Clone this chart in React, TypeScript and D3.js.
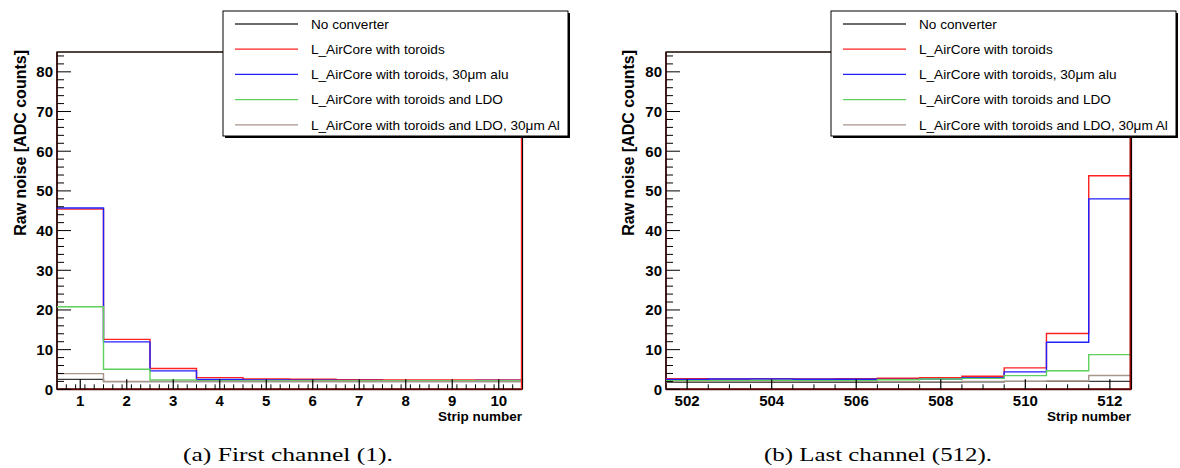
import React from "react";
import * as d3 from "d3";

// Series labels and line colours
const seriesNames = [
  "No converter",
  "L_AirCore with toroids",
  "L_AirCore with toroids, 30μm alu",
  "L_AirCore with toroids and LDO",
  "L_AirCore with toroids and LDO, 30μm Al",
];
const seriesColors = ["#3a3a3a", "#ff2020", "#2020ff", "#5fd05f", "#a8968c"];

// First channels (strips 1..10)
const firstStrips = [1, 2, 3, 4, 5, 6, 7, 8, 9, 10];
const firstNoConverter = [2.5, 1.95, 1.95, 1.95, 1.95, 1.95, 1.95, 1.95, 1.95, 1.95];
const firstToroids = [45.4, 12.6, 5.25, 2.95, 2.6, 2.55, 2.4, 2.35, 2.35, 2.35];
const firstToroidsAlu = [45.7, 11.95, 4.65, 2.5, 2.35, 2.3, 2.25, 2.2, 2.2, 2.25];
const firstToroidsLdo = [20.8, 5.05, 2.35, 2.2, 2.2, 2.2, 2.2, 2.2, 2.2, 2.2];
const firstToroidsLdoAl = [3.95, 2.0, 2.0, 2.0, 2.0, 2.0, 2.0, 2.0, 2.0, 2.0];

// Last channels (strips 502..512)
const lastStrips = [502, 503, 504, 505, 506, 507, 508, 509, 510, 511, 512];
const lastNoConverter = [1.75, 1.75, 1.75, 1.75, 1.8, 1.85, 1.85, 1.9, 2.0, 2.0, 2.0];
const lastToroids = [2.65, 2.6, 2.65, 2.6, 2.65, 2.8, 2.9, 3.3, 5.4, 14.05, 53.8];
const lastToroidsAlu = [2.5, 2.6, 2.6, 2.55, 2.55, 2.5, 2.6, 2.9, 4.4, 11.85, 48.0];
const lastToroidsLdo = [2.2, 2.2, 2.25, 2.2, 2.2, 2.4, 2.6, 2.75, 3.45, 4.7, 8.75];
const lastToroidsLdoAl = [1.95, 1.95, 1.95, 1.95, 1.95, 1.95, 1.95, 2.0, 2.0, 2.1, 3.5];

// Axis ticks
const yMajor = [0, 10, 20, 30, 40, 50, 60, 70, 80];
const firstXMajor = [1, 2, 3, 4, 5, 6, 7, 8, 9, 10];
const lastXMajor = [502, 504, 506, 508, 510, 512];

const Y_MAX = 85;
const FRAME_TOP = 52;
const FRAME_BOTTOM = 389.33;
const SANS = "'Liberation Sans', Arial, Helvetica, sans-serif";
const SERIF = "'Liberation Serif', 'Times New Roman', serif";

type PanelProps = {
  left: number;
  right: number;
  strips: number[];
  series: number[][];
  xMajor: number[];
  minorStep: number;
  titleX: number;
  legendX: number;
  caption: string;
  captionX: number;
  captionWidth: number;
  edgeColor: string;
  edgeWidth: number;
};

function Panel(p: PanelProps) {
  const lo = p.strips[0] - 0.5;
  const hi = p.strips[p.strips.length - 1] + 0.5;
  const x = d3.scaleLinear().domain([lo, hi]).range([p.left, p.right]);
  const y = d3.scaleLinear().domain([0, Y_MAX]).range([FRAME_BOTTOM, FRAME_TOP]);

  const line = d3.line<[number, number]>();
  const stepPath = (vals: number[]) => {
    const pts: [number, number][] = [];
    vals.forEach((v, i) => {
      pts.push([x(p.strips[i] - 0.5), y(v)]);
      pts.push([x(p.strips[i] + 0.5), y(v)]);
    });
    return line(pts) || "";
  };

  const yMinor = d3.range(0, Y_MAX, 2).filter((v) => v % 10 !== 0);
  const nMinor = Math.round((hi - lo) / p.minorStep);
  const xMinor = d3
    .range(1, nMinor)
    .map((i) => lo + i * p.minorStep)
    .filter((v) => !p.xMajor.some((m) => Math.abs(m - v) < 1e-6));

  const legendW = 345;
  const legendTop = 11;
  const legendH = 125;
  const rowY = (i: number) => 24 + i * 25.2;

  return (
    <g>
      {/* frame */}
      <rect x={p.left} y={FRAME_TOP} width={p.right - p.left} height={FRAME_BOTTOM - FRAME_TOP} fill="#fff" stroke="#000" strokeWidth={1.2} />
      <line x1={p.left} x2={p.right} y1={FRAME_TOP} y2={FRAME_TOP} stroke="#4a3a32" strokeWidth={1.4} />
      <line x1={p.left} x2={p.left} y1={FRAME_TOP} y2={FRAME_BOTTOM} stroke="#3a0808" strokeWidth={1.6} />

      {/* histograms */}
      {p.series.map((vals, i) => (
        <path key={i} d={stepPath(vals)} fill="none" stroke={seriesColors[i]} strokeWidth={1.4} />
      ))}

      <line x1={p.left} x2={p.right} y1={FRAME_BOTTOM} y2={FRAME_BOTTOM} stroke="#5a0404" strokeWidth={2} />
      <line x1={p.right - 0.5} x2={p.right - 0.5} y1={FRAME_TOP} y2={FRAME_BOTTOM} stroke={p.edgeColor} strokeWidth={p.edgeWidth} />
      <line x1={p.right + 0.6} x2={p.right + 0.6} y1={FRAME_TOP} y2={FRAME_BOTTOM} stroke="#000" strokeWidth={1} />

      {/* y axis */}
      {yMajor.map((v) => (
        <g key={"ym" + v}>
          <line x1={p.left} x2={p.left + 14} y1={y(v)} y2={y(v)} stroke="#000" strokeWidth={1} />
          <text x={p.left - 4} y={y(v) + 5.4} textAnchor="end" fontFamily={SANS} fontWeight="bold" fontSize={15}>
            {v}
          </text>
        </g>
      ))}
      {yMinor.map((v) => (
        <line key={"yn" + v} x1={p.left} x2={p.left + 7} y1={y(v)} y2={y(v)} stroke="#000" strokeWidth={1} />
      ))}
      <text
        transform={`translate(${p.titleX + 5.8},50) rotate(-90)`}
        textAnchor="end"
        fontFamily={SANS}
        fontWeight="bold"
        fontSize={16}
      >
        Raw noise [ADC counts]
      </text>

      {/* x axis */}
      {p.xMajor.map((v) => (
        <g key={"xm" + v}>
          <line x1={x(v)} x2={x(v)} y1={FRAME_BOTTOM} y2={FRAME_BOTTOM - 10} stroke="#000" strokeWidth={1.2} />
          <text x={x(v)} y={406} textAnchor="middle" fontFamily={SANS} fontWeight="bold" fontSize={15}>
            {v}
          </text>
        </g>
      ))}
      {xMinor.map((v, i) => (
        <line key={"xn" + i} x1={x(v)} x2={x(v)} y1={FRAME_BOTTOM} y2={FRAME_BOTTOM - 5} stroke="#000" strokeWidth={1} />
      ))}
      <text x={p.right} y={421} textAnchor="end" fontFamily={SANS} fontWeight="bold" fontSize={13.5}>
        Strip number
      </text>

      {/* legend */}
      <rect x={p.legendX + 2} y={legendTop + 2} width={legendW} height={legendH} fill="#000" />
      <rect x={p.legendX} y={legendTop} width={legendW} height={legendH} fill="#fff" stroke="#000" strokeWidth={1} />
      {seriesNames.map((name, i) => (
        <g key={"lg" + i}>
          <line x1={p.legendX + 12} x2={p.legendX + 75} y1={rowY(i)} y2={rowY(i)} stroke={seriesColors[i]} strokeWidth={1.3} />
          <text x={p.legendX + 88} y={rowY(i) + 4.8} fontFamily={SANS} fontSize={13.6}>
            {name}
          </text>
        </g>
      ))}

      {/* caption */}
      <text
        x={p.captionX - p.captionWidth / 2}
        y={461}
        fontFamily={SERIF}
        fontSize={19}
        textLength={p.captionWidth}
        lengthAdjust="spacingAndGlyphs"
      >
        {p.caption}
      </text>
    </g>
  );
}

export default function App() {
  return (
    <svg
      width={1180}
      height={468}
      style={{ position: "absolute", left: 0, top: 0, background: "#fff" }}
    >
      <rect width={1180} height={468} fill="#fff" />
      <Panel
        left={57}
        right={522}
        strips={firstStrips}
        series={[firstNoConverter, firstToroids, firstToroidsAlu, firstToroidsLdo, firstToroidsLdoAl]}
        xMajor={firstXMajor}
        minorStep={0.2}
        titleX={20}
        legendX={223}
        caption="(a) First channel (1)."
        captionX={288}
        captionWidth={210}
        edgeColor="#ff2020"
        edgeWidth={1.4}
      />
      <Panel
        left={666}
        right={1131}
        strips={lastStrips}
        series={[lastNoConverter, lastToroids, lastToroidsAlu, lastToroidsLdo, lastToroidsLdoAl]}
        xMajor={lastXMajor}
        minorStep={0.5}
        titleX={628}
        legendX={831}
        caption="(b) Last channel (512)."
        captionX={878}
        captionWidth={228}
        edgeColor="#9a0000"
        edgeWidth={2}
      />
    </svg>
  );
}
